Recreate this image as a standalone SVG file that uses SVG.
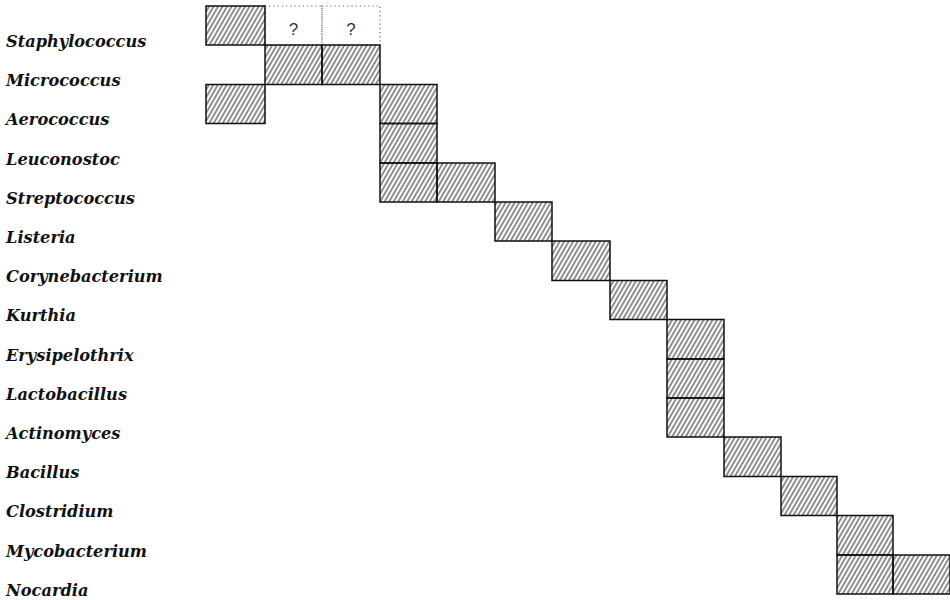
<svg xmlns="http://www.w3.org/2000/svg" width="950" height="600" viewBox="0 0 950 600">
<defs>
<pattern id="hatch" patternUnits="userSpaceOnUse" width="3.9" height="10" patternTransform="rotate(30)">
<line x1="1" y1="0" x2="1" y2="10" stroke="#222" stroke-width="1"/>
</pattern>
</defs>
<style>
.lbl{font-family:"DejaVu Serif","Liberation Serif",serif;font-style:italic;font-weight:bold;font-size:16.2px;fill:#111}
.cell{fill:url(#hatch);stroke:#111;stroke-width:1.5}
.dot{fill:none;stroke:#666;stroke-width:1.2;stroke-dasharray:1.2 3}
.q{font-family:"Liberation Sans","DejaVu Sans",sans-serif;font-size:17px;fill:#333;text-anchor:middle}
</style>
<rect width="950" height="600" fill="#fff"/>
<g id="staphylococcus">
<text class="lbl" x="6" y="46.5">Staphylococcus</text>
<rect class="dot" x="265" y="6" width="57" height="39"/>
<rect class="dot" x="322" y="6" width="58" height="39"/>
<text class="q" x="293.5" y="34.5">?</text>
<text class="q" x="351" y="34.5">?</text>
<rect class="cell" x="206" y="6" width="59" height="39"/>
</g>
<g id="micrococcus">
<text class="lbl" x="6" y="86">Micrococcus</text>
<rect class="cell" x="265" y="45" width="57" height="39.5"/>
<rect class="cell" x="322" y="45" width="58" height="39.5"/>
</g>
<g id="aerococcus">
<text class="lbl" x="6" y="125">Aerococcus</text>
<rect class="cell" x="206" y="84.5" width="59" height="39"/>
<rect class="cell" x="380" y="84.5" width="57" height="39"/>
</g>
<g id="leuconostoc">
<text class="lbl" x="6" y="164.5">Leuconostoc</text>
<rect class="cell" x="380" y="123.5" width="57" height="39.5"/>
</g>
<g id="streptococcus">
<text class="lbl" x="6" y="203.5">Streptococcus</text>
<rect class="cell" x="380" y="163" width="57" height="39"/>
<rect class="cell" x="437" y="163" width="58" height="39"/>
</g>
<g id="listeria">
<text class="lbl" x="6" y="242.5">Listeria</text>
<rect class="cell" x="495" y="202" width="57" height="39"/>
</g>
<g id="corynebacterium">
<text class="lbl" x="6" y="282">Corynebacterium</text>
<rect class="cell" x="552" y="241" width="58" height="39.5"/>
</g>
<g id="kurthia">
<text class="lbl" x="6" y="321">Kurthia</text>
<rect class="cell" x="610" y="280.5" width="57" height="39"/>
</g>
<g id="erysipelothrix">
<text class="lbl" x="6" y="360.5">Erysipelothrix</text>
<rect class="cell" x="667" y="319.5" width="57" height="39.5"/>
</g>
<g id="lactobacillus">
<text class="lbl" x="6" y="399.5">Lactobacillus</text>
<rect class="cell" x="667" y="359" width="57" height="39"/>
</g>
<g id="actinomyces">
<text class="lbl" x="6" y="438.5">Actinomyces</text>
<rect class="cell" x="667" y="398" width="57" height="39"/>
</g>
<g id="bacillus">
<text class="lbl" x="6" y="478">Bacillus</text>
<rect class="cell" x="724" y="437" width="57" height="39.5"/>
</g>
<g id="clostridium">
<text class="lbl" x="6" y="517">Clostridium</text>
<rect class="cell" x="781" y="476.5" width="56" height="39"/>
</g>
<g id="mycobacterium">
<text class="lbl" x="6" y="556.5">Mycobacterium</text>
<rect class="cell" x="837" y="515.5" width="56" height="39.5"/>
</g>
<g id="nocardia">
<text class="lbl" x="6" y="595.5">Nocardia</text>
<rect class="cell" x="837" y="555" width="56" height="39"/>
<rect class="cell" x="893" y="555" width="57" height="39"/>
</g>
</svg>
